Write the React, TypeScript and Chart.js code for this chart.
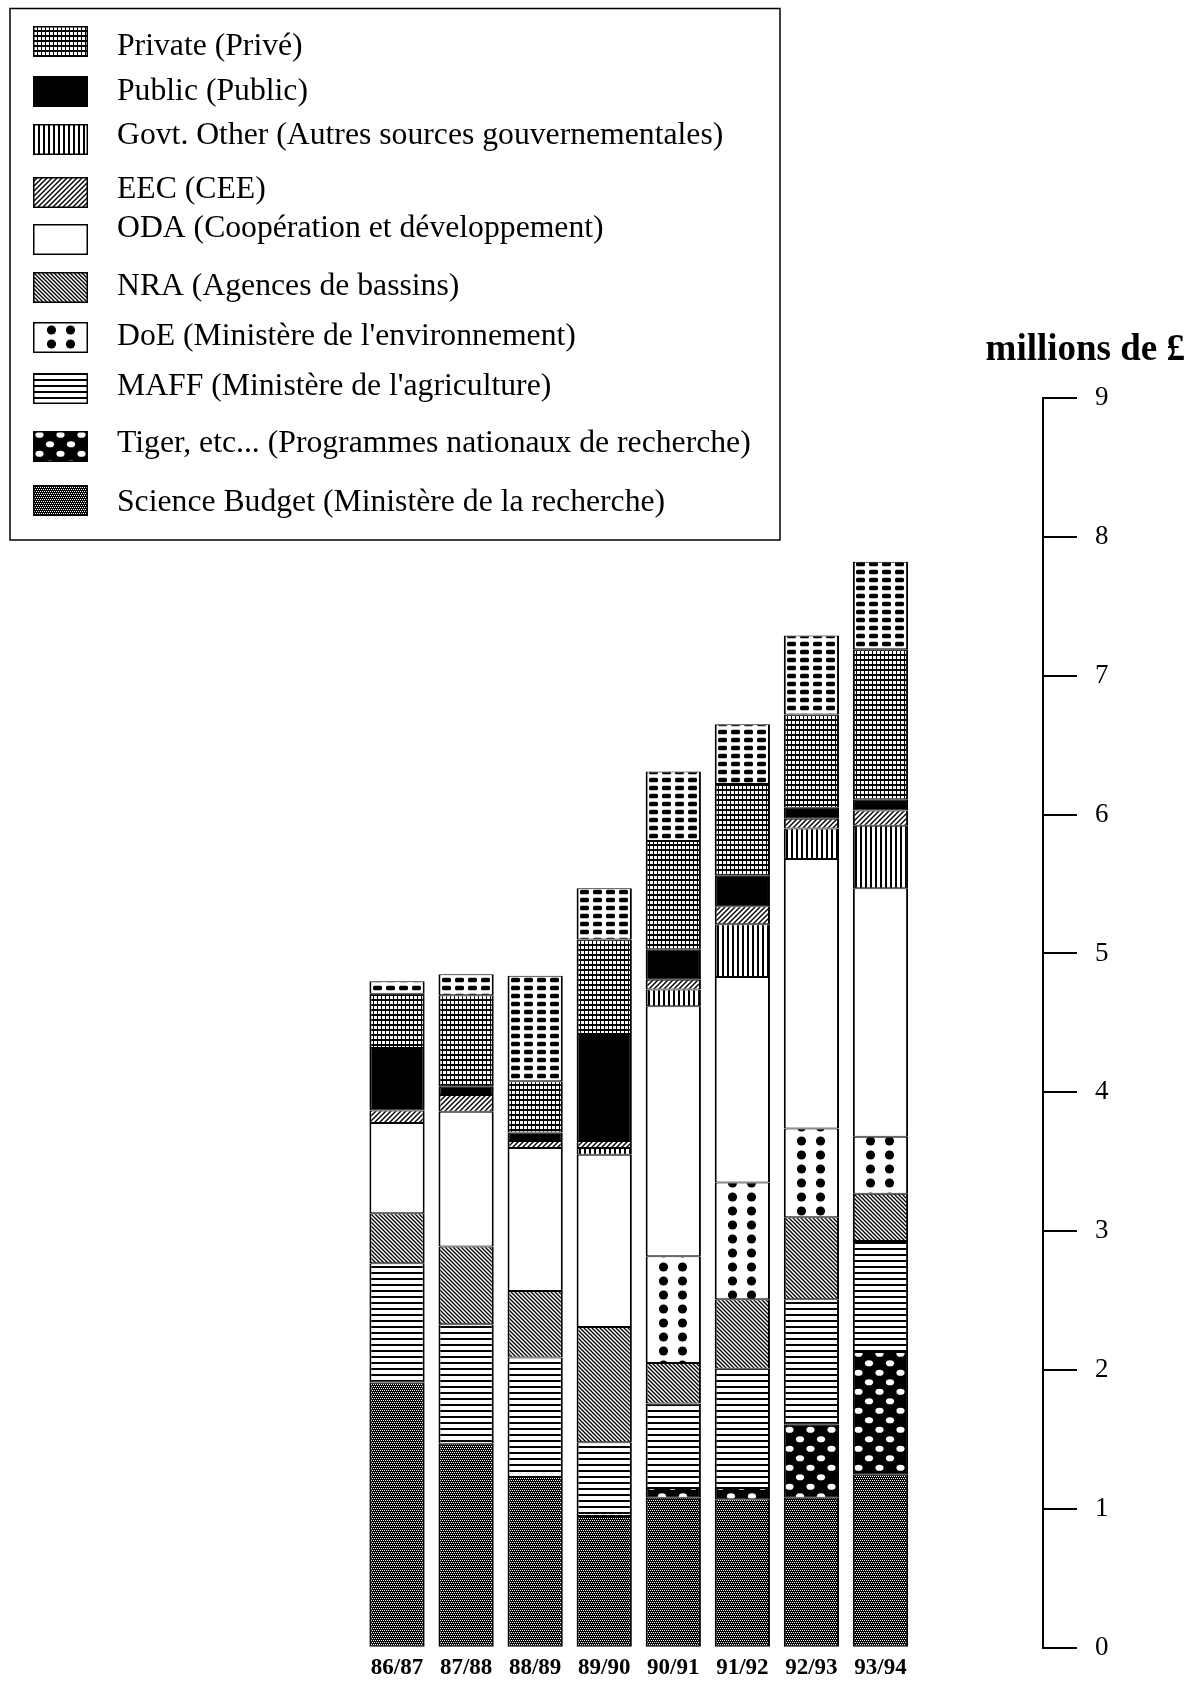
import React, { useEffect, useRef } from 'react';
import { Chart, registerables } from 'chart.js';

Chart.register(...registerables);

// ---------------- data ----------------
const categories = ['86/87', '87/88', '88/89', '89/90', '90/91', '91/92', '92/93', '93/94'];

const scienceBudget = [1.91, 1.47, 1.23, 0.95, 1.08, 1.07, 1.08, 1.25];
const tiger = [null, null, null, null, 0.07, 0.08, 0.53, 0.88];
const maff = [0.86, 0.86, 0.86, 0.53, 0.61, 0.86, 0.9, 0.8];
const nra = [0.36, 0.56, 0.48, 0.83, 0.29, 0.5, 0.59, 0.34];
const doe = [null, null, null, null, 0.77, 0.84, 0.64, 0.41];
const oda = [0.65, 0.97, 1.03, 1.24, 1.8, 1.48, 1.94, 1.79];
const govtOther = [null, null, null, 0.05, 0.12, 0.38, 0.22, 0.45];
const eec = [0.09, 0.12, 0.05, 0.05, 0.07, 0.13, 0.07, 0.11];
const publicFunds = [0.45, 0.06, 0.06, 0.77, 0.22, 0.22, 0.08, 0.08];
const privateFunds = [0.39, 0.66, 0.37, 0.68, 0.78, 0.66, 0.67, 1.08];
const topBand = [0.09, 0.15, 0.76, 0.37, 0.5, 0.43, 0.57, 0.63];

const yTicksMin = 0;
const yTicksMax = 9;
const axisTitle = 'millions de £';

const SERIES = [
  { label: 'Science Budget (Ministère de la recherche)', data: scienceBudget, kind: 'science' },
  { label: 'Tiger, etc... (Programmes nationaux de recherche)', data: tiger, kind: 'tiger' },
  { label: "MAFF (Ministère de l'agriculture)", data: maff, kind: 'maff' },
  { label: 'NRA (Agences de bassins)', data: nra, kind: 'nra' },
  { label: "DoE (Ministère de l'environnement)", data: doe, kind: 'doe' },
  { label: 'ODA (Coopération et développement)', data: oda, kind: 'oda' },
  { label: 'Govt. Other (Autres sources gouvernementales)', data: govtOther, kind: 'govt' },
  { label: 'EEC (CEE)', data: eec, kind: 'eec' },
  { label: 'Public (Public)', data: publicFunds, kind: 'public' },
  { label: 'Private (Privé)', data: privateFunds, kind: 'priv' },
  { label: '', data: topBand, kind: 'dash' },
];

const LEGEND_ORDER = ['priv', 'public', 'govt', 'eec', 'oda', 'nra', 'doe', 'maff', 'tiger', 'science'];

// ---------------- patterns ----------------
const FONT = '"Liberation Serif", "Times New Roman", serif';
const tileCache: Record<string, HTMLCanvasElement> = {};

function tile(kind: string): HTMLCanvasElement {
  if (tileCache[kind]) return tileCache[kind];
  const sizes: Record<string, [number, number]> = {
    science: [4, 4], tiger: [21, 19], maff: [4, 6], nra: [4, 4], doe: [60, 14],
    eec: [5, 5], govt: [5, 4], priv: [4, 5], dash: [13, 8],
  };
  const [w, h] = sizes[kind];
  const c = document.createElement('canvas');
  c.width = w;
  c.height = h;
  const g = c.getContext('2d')!;
  const fill = (col: string) => { g.fillStyle = col; g.fillRect(0, 0, w, h); };
  switch (kind) {
    case 'science':
      fill('#000');
      g.fillStyle = '#fff';
      g.fillRect(0, 0, 1, 1); g.fillRect(2, 0, 1, 1);
      g.fillRect(1, 2, 1, 1); g.fillRect(3, 2, 1, 1);
      break;
    case 'tiger':
      fill('#000');
      g.fillStyle = '#fff';
      for (const [cx, cy] of [[10.5, 4.75], [0, 14.25], [21, 14.25]]) {
        g.beginPath(); g.ellipse(cx, cy, 4.1, 3.1, 0, 0, Math.PI * 2); g.fill();
      }
      break;
    case 'maff':
      fill('#fff'); g.fillStyle = '#000'; g.fillRect(0, 0, w, 2);
      break;
    case 'nra':
      fill('#fff'); g.strokeStyle = '#000'; g.lineWidth = 1.3;
      for (const k of [-4, 0, 4]) { g.beginPath(); g.moveTo(k - 1, -1); g.lineTo(k + 5, 5); g.stroke(); }
      break;
    case 'eec':
      fill('#fff'); g.strokeStyle = '#000'; g.lineWidth = 1.4;
      for (const k of [-5, 0, 5]) { g.beginPath(); g.moveTo(k - 1, 6); g.lineTo(k + 6, -1); g.stroke(); }
      break;
    case 'govt':
      fill('#fff'); g.fillStyle = '#000'; g.fillRect(0, 0, 2, h);
      break;
    case 'doe':
      fill('#fff'); g.fillStyle = '#000';
      for (const cx of [20.5, 39.5]) { g.beginPath(); g.arc(cx, 7, 4.6, 0, Math.PI * 2); g.fill(); }
      break;
    case 'priv':
      fill('#000'); g.fillStyle = '#fff'; g.fillRect(1, 1, 3, 3);
      break;
    case 'dash':
      fill('#fff'); g.fillStyle = '#000';
      g.beginPath();
      if ((g as any).roundRect) (g as any).roundRect(2, 1.75, 9, 4.5, 1.5); else g.rect(2, 1.75, 9, 4.5);
      g.fill();
      break;
  }
  tileCache[kind] = c;
  return c;
}

const ANCHOR: Record<string, number> = { doe: 30, tiger: 11, dash: 0 };

function fillFor(ctx2d: CanvasRenderingContext2D, kind: string, tx: number, ty: number): any {
  if (kind === 'public') return '#000';
  if (kind === 'oda') return '#fff';
  const p = ctx2d.createPattern(tile(kind), 'repeat')!;
  p.setTransform(new DOMMatrix([1, 0, 0, 1, tx, ty]));
  return p;
}

function barFill(kind: string) {
  return (c: any) => {
    const chart = c.chart;
    let tx = 0;
    if (c.type === 'data' && chart.scales && chart.scales.x) {
      tx = Math.round(chart.scales.x.getPixelForValue(c.dataIndex)) - (ANCHOR[kind] || 0);
    }
    return fillFor(chart.ctx, kind, tx, 0);
  };
}

// ---------------- legend (boxed, top-left) ----------------
const SWATCH_TOP = [26, 76, 124, 177, 224, 272, 322, 373, 431, 485];
const TEXT_BASE = [55, 100, 144, 198, 237, 295, 345, 395, 452, 511];

const boxLegend = {
  id: 'boxLegend',
  afterDraw(chart: any) {
    const c: CanvasRenderingContext2D = chart.ctx;
    c.save();
    c.strokeStyle = '#000';
    c.lineWidth = 1.5;
    c.strokeRect(10, 8.5, 770, 531.5);
    LEGEND_ORDER.forEach((kind, i) => {
      const ds = chart.data.datasets.find((d: any) => d.kind === kind);
      const top = SWATCH_TOP[i];
      const sx = 33, sw = 55, sh = 31;
      let tx = sx, ty = top;
      if (kind === 'doe') { tx = Math.round(sx + sw / 2 - 30); ty = top + 1; }
      if (kind === 'tiger') { tx = Math.round(sx + sw / 2 - 10.5); ty = top - 1; }
      c.fillStyle = fillFor(c, kind, tx, ty);
      c.fillRect(sx, top, sw, sh);
      c.lineWidth = 1.5;
      c.strokeStyle = '#000';
      c.strokeRect(sx + 0.75, top + 0.75, sw - 1.5, sh - 1.5);
      c.fillStyle = '#000';
      c.font = `31.7px ${FONT}`;
      c.textBaseline = 'alphabetic';
      c.textAlign = 'left';
      c.fillText(ds ? ds.label : '', 117, TEXT_BASE[i]);
    });
    c.restore();
  },
};

export default function App() {
  const ref = useRef<HTMLCanvasElement>(null);

  useEffect(() => {
    document.body.style.margin = '0';
    const canvas = ref.current!;
    const chart = new Chart(canvas, {
      type: 'bar',
      data: {
        labels: categories,
        datasets: SERIES.map((s) => ({
          label: s.label,
          kind: s.kind,
          data: s.data,
          stack: 'total',
          backgroundColor: barFill(s.kind),
          borderColor: '#000',
          borderWidth: { top: 1, bottom: 1, left: 2, right: 2 },
          borderSkipped: false,
          barPercentage: 0.8,
          categoryPercentage: 1,
          yAxisID: 'y',
        })) as any,
      },
      options: {
        responsive: false,
        maintainAspectRatio: false,
        devicePixelRatio: 1,
        animation: false,
        events: [],
        layout: { padding: { left: 362.5, right: 0, top: 0, bottom: 0 } },
        plugins: {
          legend: { display: false },
          tooltip: { enabled: false },
          title: {
            display: true,
            text: axisTitle,
            align: 'end',
            color: '#000',
            font: { family: FONT, size: 37, weight: 'bold', lineHeight: 1.2 },
            padding: { top: 327.8, bottom: 25.8 },
          },
        },
        scales: {
          x: {
            stacked: true,
            offset: true,
            grid: { display: false, drawTicks: false, tickLength: 0 },
            border: { display: false },
            ticks: {
              color: '#000',
              font: { family: FONT, size: 23, weight: 'bold', lineHeight: 1 },
              padding: 9,
              maxRotation: 0,
              autoSkip: false,
            },
            afterFit: (s: any) => { s.height = 31; },
          },
          ySpace: {
            type: 'linear',
            position: 'right',
            weight: 0,
            min: yTicksMin,
            max: yTicksMax,
            grid: { display: false },
            border: { display: false },
            ticks: { display: false },
            afterFit: (s: any) => { s.width = 128; },
          },
          y: {
            type: 'linear',
            position: 'right',
            weight: 1,
            stacked: true,
            min: yTicksMin,
            max: yTicksMax,
            ticks: {
              stepSize: 1,
              color: '#000',
              font: { family: FONT, size: 27 },
              padding: 18,
            },
            grid: { drawOnChartArea: false, drawTicks: true, tickLength: 34, color: '#000', lineWidth: 2 },
            border: { display: true, color: '#000', width: 2 },
            afterFit: (s: any) => { s.width = 142; },
          },
        } as any,
      },
      plugins: [boxLegend],
    });
    return () => chart.destroy();
  }, []);

  return (
    <div style={{ position: 'absolute', left: 0, top: 0, width: 1185, height: 1682 }}>
      <canvas ref={ref} width={1185} height={1682} style={{ display: 'block', width: 1185, height: 1682 }} />
    </div>
  );
}
